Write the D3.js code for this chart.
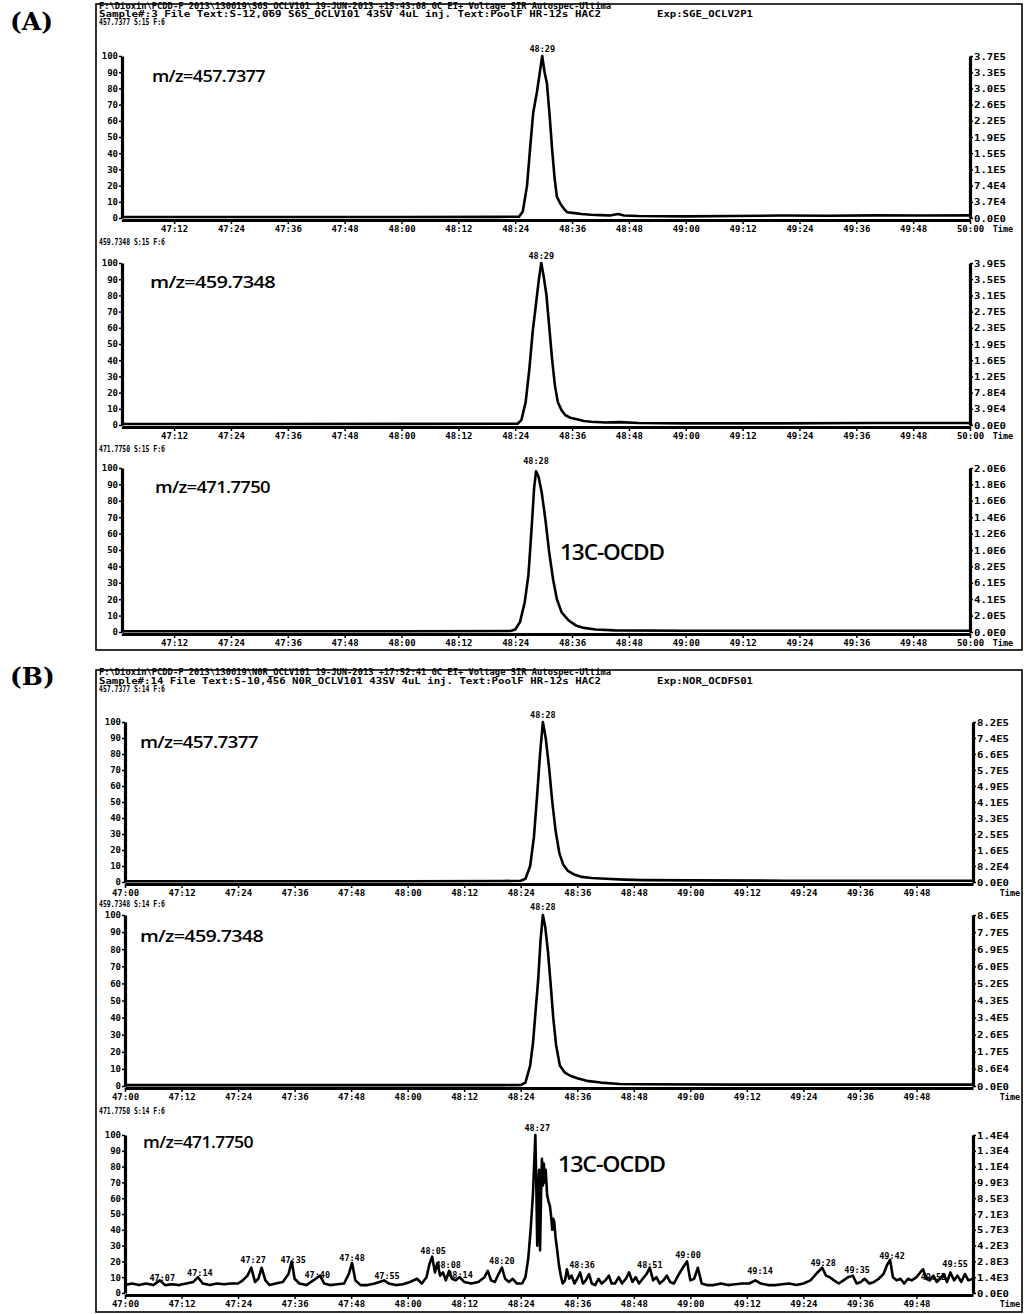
<!DOCTYPE html>
<html>
<head>
<meta charset="utf-8">
<script src="https://cdn.jsdelivr.net/npm/d3@7"></script>
<style>
body { margin: 0; background: #fff; }
text { fill: #000; }
.hd { font-family: "DejaVu Sans Mono", monospace; font-weight: bold; font-size: 8px; }
.tk text { font-family: "DejaVu Sans Mono", monospace; font-weight: bold; font-size: 9px; }
.rt text { font-family: "DejaVu Sans Mono", monospace; font-weight: bold; font-size: 9.5px; }
.pk { font-family: "DejaVu Sans Mono", monospace; font-weight: bold; font-size: 8.5px; }
.mz { font-family: "Open Sans", sans-serif; font-weight: 600; font-size: 17px; letter-spacing: -0.6px; }
.cmp { font-family: "Open Sans", sans-serif; font-weight: 600; font-size: 21px; letter-spacing: -1px; }
.big { font-family: "DejaVu Serif", serif; font-weight: bold; font-size: 25px; }
</style>
</head>
<body>
<div id="chart"></div>
<script>
// time in seconds after 47:00, intensity in % of the trace maximum
const timeLabelsA = ["47:12","47:24","47:36","47:48","48:00","48:12","48:24","48:36","48:48","49:00","49:12","49:24","49:36","49:48","50:00"];
const timeLabelsB = ["47:00","47:12","47:24","47:36","47:48","48:00","48:12","48:24","48:36","48:48","49:00","49:12","49:24","49:36","49:48"];
const leftLabels = ["100","90","80","70","60","50","40","30","20","10","0"];

const rightA1 = ["3.7E5","3.3E5","3.0E5","2.6E5","2.2E5","1.9E5","1.5E5","1.1E5","7.4E4","3.7E4","0.0E0"];
const rightA2 = ["3.9E5","3.5E5","3.1E5","2.7E5","2.3E5","1.9E5","1.6E5","1.2E5","7.8E4","3.9E4","0.0E0"];
const rightA3 = ["2.0E6","1.8E6","1.6E6","1.4E6","1.2E6","1.0E6","8.2E5","6.1E5","4.1E5","2.0E5","0.0E0"];
const rightB1 = ["8.2E5","7.4E5","6.6E5","5.7E5","4.9E5","4.1E5","3.3E5","2.5E5","1.6E5","8.2E4","0.0E0"];
const rightB2 = ["8.6E5","7.7E5","6.9E5","6.0E5","5.2E5","4.3E5","3.4E5","2.6E5","1.7E5","8.6E4","0.0E0"];
const rightB3 = ["1.4E4","1.3E4","1.1E4","9.9E3","8.5E3","7.1E3","5.7E3","4.2E3","2.8E3","1.4E3","0.0E0"];

const headerA = ["F:\\Dioxin\\PCDD-F 2013\\130619\\S6S_OCLV101 19-JUN-2013 +15:43:08 GC EI+ Voltage SIR Autospec-Ultima",
                 "Sample#:3 File Text:S-12,069 S6S_OCLV101 43SV 4uL inj. Text:PoolF HR-12s HAC2",
                 "Exp:SGE_OCLV2P1"];
const headerB = ["F:\\Dioxin\\PCDD-F 2013\\130619\\N0R_OCLV101 19-JUN-2013 +17:52:41 GC EI+ Voltage SIR Autospec-Ultima",
                 "Sample#:14 File Text:S-10,456 N0R_OCLV101 43SV 4uL inj. Text:PoolF HR-12s HAC2",
                 "Exp:NOR_OCDFS01"];
const traceTitlesA = ["457.7377 S:15 F:6","459.7348 S:15 F:6","471.7750 S:15 F:6"];
const traceTitlesB = ["457.7377 S:14 F:6","459.7348 S:14 F:6","471.7750 S:14 F:6"];
const mzLabels = ["m/z=457.7377","m/z=459.7348","m/z=471.7750"];
const compound = "13C-OCDD";

const a1 = [[1,0.6],[30,0.6],[60,0.6],[80,0.7],[84.8,0.8],[85.6,4],[86.5,20],[87.2,45],[87.8,65],[88.6,78],[89.2,90],[89.7,100],[90.2,90],[90.7,83],[91.3,62],[91.8,42],[92.3,25],[92.8,13],[93.5,9],[94.2,6],[95,3.5],[96.5,3],[98,2.5],[100,2],[102,1.8],[104,1.5],[105.7,2.5],[107,1.5],[110,1.2],[120,1],[130,1.2],[140,1.5],[150,1.4],[160,1.6],[170,1.5],[180,1.6]];
const a2 = [[1,0.6],[30,0.6],[60,0.7],[80,0.8],[84.5,0.8],[85.3,3],[86.2,14],[87,35],[87.7,58],[88.4,75],[89,90],[89.5,100],[90,92],[90.6,80],[91.2,60],[91.8,40],[92.4,24],[93,14],[93.8,9],[94.6,6],[95.6,4.5],[97,3.5],[98.5,2.5],[100,2],[103,1.5],[106,1.8],[110,1.2],[120,1],[140,1],[160,1.2],[180,1.2]];
const a3 = [[1,0.5],[30,0.5],[60,0.5],[83,0.6],[84,1.5],[85,6],[86,18],[86.8,35],[87.5,65],[88,88],[88.4,98],[88.9,95],[89.6,85],[90.4,68],[91.2,48],[92,32],[92.8,20],[93.8,12],[95.3,7],[96.8,4],[98.5,2.5],[101,1.5],[105,1],[120,0.8],[150,0.8],[180,0.8]];
const b1 = [[0,0.5],[30,0.5],[60,0.5],[80,0.6],[84,0.8],[85,2],[86,10],[86.8,28],[87.5,55],[88.1,80],[88.7,100],[89.3,90],[90,72],[90.7,50],[91.4,32],[92.2,18],[93,11],[94,7],[95.5,4.5],[97,3.2],[99,2.5],[102,2],[106,1.5],[110,1.2],[120,1],[140,0.8],[160,0.8],[180,0.8]];
const b2 = [[0,0.5],[30,0.5],[60,0.5],[80,0.5],[84,0.6],[85,2],[86,12],[86.6,25],[87.1,42],[87.7,62],[88.2,85],[88.7,100],[89.2,93],[89.8,78],[90.4,58],[90.9,40],[91.5,24],[92.3,12],[93.3,8],[94.5,6],[96,4.5],[98,3],[101,2],[105,1.2],[110,1],[130,0.8],[180,0.8]];
const b3 = [[0,5],[1.5,6],[3,5],[4.5,6],[6,5],[7.4,8],[8.5,5],[10,5.5],[11.5,5],[13,6],[14.5,7],[15.5,10],[16.5,6],[18,5],[19.5,6],[21,5.5],[22.5,6],[24,6],[25,8],[26,11],[26.8,16],[27.6,7],[28.3,9],[29,16],[29.8,8],[30.7,5],[32,6],[33.5,7],[34.7,12],[35.4,20],[36,9],[37,6],[38.5,5],[39.5,7],[40.5,9],[41.4,11],[42.3,6],[43.5,5],[45,5.5],[46.5,6],[47.5,12],[48.2,19],[48.9,8],[50,5],[51.5,5],[53,6],[54,7],[55,8],[56,6],[57.5,5],[59,5.5],[60.5,7],[62,9],[63,6],[64,10],[64.6,18],[65.2,23],[65.8,13],[66.3,19],[66.9,11],[67.5,13],[68.1,8],[68.8,14],[69.4,9],[70.2,8],[71,10],[72,7],[73.5,6],[75,7],[76.3,10],[77,14],[77.7,8],[78.5,7],[79.3,12],[80,16],[80.7,9],[81.5,7],[82.3,9],[83.2,6],[84.3,6],[85,10],[85.6,22],[86.1,40],[86.6,63],[86.9,85],[87.1,100],[87.3,70],[87.5,30],[87.7,60],[87.9,78],[88.1,27],[88.3,60],[88.5,85],[88.7,68],[88.9,82],[89.1,70],[89.3,78],[89.6,62],[89.9,58],[90.2,55],[90.5,47],[90.7,40],[90.9,47],[91.1,45],[91.4,35],[91.7,28],[92.1,18],[92.5,11],[92.9,6],[93.4,8],[93.8,15],[94.3,9],[94.8,11],[95.4,6],[96,9],[96.6,13],[97.2,6],[97.8,8],[98.5,12],[99.1,6],[99.8,5],[100.5,9],[101.2,6],[102,8],[102.7,11],[103.3,6],[104,6],[104.8,10],[105.5,6],[106.3,9],[107,13],[107.7,7],[108.4,10],[109.1,6],[109.9,9],[110.7,12],[111.4,16],[112.1,8],[112.8,10],[113.5,6],[114.3,8],[115,11],[115.7,7],[116.5,6],[117.4,11],[118.4,16],[119.3,20],[120,8],[120.8,9],[121.6,16],[122.4,6],[123.5,5],[125,5],[126.5,6],[128,5],[129.5,5.5],[131,6],[132.5,6],[133.8,8],[135,6],[136.5,5],[138,5],[139.5,5.5],[141,6],[142.5,5],[144,6],[145.5,8],[147,13],[148,16],[148.8,11],[149.6,10],[150.5,8],[151.5,6],[152.5,8],[153.5,10],[154.5,11],[155.3,6],[156.2,7],[157,9],[158,6],[159,7],[160,9],[161,12],[161.8,18],[162.4,21],[163,10],[163.8,8],[164.6,9],[165.4,6],[166.2,9],[167,8],[168,10],[168.8,13],[169.4,15],[170.1,9],[170.8,8],[171.6,11],[172.3,7],[173,9],[173.8,12],[174.5,7],[175.2,13],[176,8],[176.7,11],[177.5,7],[178.3,12],[179,8],[180,9]];

// peak labels: [text, time, % position of label baseline]
const peaksA1 = [["48:29",89.7,101.5]];
const peaksA2 = [["48:29",89.5,101.5]];
const peaksA3 = [["48:28",88.4,101.5]];
const peaksB1 = [["48:28",88.7,101.5]];
const peaksB2 = [["48:28",88.7,101.5]];
const peaksB3 = [["47:07",7.9,6.3],["47:14",15.9,9.5],["47:27",27.2,17.7],["47:35",35.7,17.7],["47:40",40.8,8.2],["47:48",48.2,19],["47:55",55.6,7.6],["48:05",65.4,23.4],["48:08",68.6,14.6],["48:14",71.1,8.2],["48:20",80,17],["48:27",87.5,101.5],["48:36",97,14.6],["48:51",111.4,14.6],["49:00",119.5,21],["49:14",134.8,10.8],["49:28",148.2,15.8],["49:35",155.4,11.4],["49:42",162.8,20.3],["49:52",171.6,7.2],["49:55",176.2,15.2]];

const toSec = s => { const p = s.split(":"); return (+p[0] - 47) * 60 + (+p[1]); };
const pctVals = leftLabels.map(d => +d);

const panels = [
  { tag: "(A)", tagY: 30, box: [96, 4, 1022, 650], header: headerA, hy: [9, 17, 25], x0: 122, x1: 970, dom: [1, 180],
    times: timeLabelsA, timeX: 1003,
    subs: [
      { title: traceTitlesA[0], ty: 25, top: 56, bottom: 218, data: a1, right: rightA1, peaks: peaksA1, mz: [152, 82, 113] },
      { title: traceTitlesA[1], ty: 245, top: 263, bottom: 425, data: a2, right: rightA2, peaks: peaksA2, mz: [150, 288, 125] },
      { title: traceTitlesA[2], ty: 452, top: 468, bottom: 632, data: a3, right: rightA3, peaks: peaksA3, mz: [155, 493, 115], cmp: [560, 560, 104] }
    ] },
  { tag: "(B)", tagY: 685, box: [96, 670, 1022, 1312], header: headerB, hy: [675, 684, 692], x0: 125, x1: 973, dom: [0, 180],
    times: timeLabelsB, timeX: 1010,
    subs: [
      { title: traceTitlesB[0], ty: 692, top: 722, bottom: 882, data: b1, right: rightB1, peaks: peaksB1, mz: [140, 748, 118] },
      { title: traceTitlesB[1], ty: 907, top: 915, bottom: 1086, data: b2, right: rightB2, peaks: peaksB2, mz: [140, 942, 123] },
      { title: traceTitlesB[2], ty: 1114, top: 1135, bottom: 1293, data: b3, right: rightB3, peaks: peaksB3, mz: [143, 1148, 110], cmp: [558, 1172, 107] }
    ] }
];

const svg = d3.select("#chart").append("svg")
  .attr("width", 1025).attr("height", 1314);

panels.forEach(p => {
  const g = svg.append("g");
  g.append("text").attr("class", "big").attr("x", 10).attr("y", p.tagY).text(p.tag);
  g.append("rect")
    .attr("x", p.box[0]).attr("y", p.box[1])
    .attr("width", p.box[2] - p.box[0]).attr("height", p.box[3] - p.box[1])
    .attr("fill", "none").attr("stroke", "#000").attr("stroke-width", 1.6);
  g.append("text").attr("class", "hd").attr("x", 99).attr("y", p.hy[0])
    .attr("textLength", 512).attr("lengthAdjust", "spacingAndGlyphs").text(p.header[0]);
  g.append("text").attr("class", "hd").attr("x", 99).attr("y", p.hy[1])
    .attr("textLength", 502).attr("lengthAdjust", "spacingAndGlyphs").text(p.header[1]);
  g.append("text").attr("class", "hd").attr("x", 657).attr("y", p.hy[1])
    .attr("textLength", 96).attr("lengthAdjust", "spacingAndGlyphs").text(p.header[2]);

  const x = d3.scaleLinear().domain(p.dom).range([p.x0, p.x1]);

  p.subs.forEach((s, si) => {
    const y = d3.scaleLinear().domain([0, 100]).range([s.bottom, s.top]);

    g.append("text").attr("class", "hd").attr("x", 99).attr("y", s.ty)
      .attr("textLength", 66).attr("lengthAdjust", "spacingAndGlyphs").text(s.title);

    // minor x ticks
    g.append("g").attr("transform", `translate(0,${s.bottom + 2})`)
      .call(d3.axisBottom(x).tickValues(d3.range(p.dom[0], p.dom[1], 2)).tickSize(2).tickFormat(""))
      .call(a => a.select(".domain").remove())
      .selectAll("line").attr("stroke-width", 1.3);

    // main x axis
    const xa = g.append("g").attr("class", "tk").attr("transform", `translate(0,${s.bottom + 2})`)
      .call(d3.axisBottom(x).tickValues(p.times.map(toSec)).tickFormat((d, i) => p.times[i])
        .tickSize(4).tickSizeOuter(0).tickPadding(2));
    xa.select(".domain").attr("stroke-width", 3.2);
    xa.selectAll("line").attr("stroke-width", 1.5);
    g.append("text").attr("class", "pk").attr("x", p.timeX).attr("y", s.bottom + 14)
      .attr("text-anchor", "middle").text("Time");

    const la = g.append("g").attr("class", "tk").attr("transform", `translate(${p.x0},0)`)
      .call(d3.axisLeft(y).tickValues(pctVals).tickFormat((d, i) => leftLabels[i])
        .tickSize(3).tickSizeOuter(0).tickPadding(1));
    la.select(".domain").attr("stroke-width", 3.2);
    la.selectAll("line").attr("stroke-width", 1.5);

    const ra = g.append("g").attr("class", "rt").attr("transform", `translate(${p.x1},0)`)
      .call(d3.axisRight(y).tickValues(pctVals).tickFormat((d, i) => s.right[i])
        .tickSize(3).tickSizeOuter(0).tickPadding(1));
    ra.select(".domain").attr("stroke-width", 3.2);
    ra.selectAll("line").attr("stroke-width", 1.5);
    ra.selectAll("text").attr("textLength", 32).attr("lengthAdjust", "spacingAndGlyphs");

    g.append("path").datum(s.data)
      .attr("fill", "none").attr("stroke", "#000").attr("stroke-width", 2.6)
      .attr("stroke-linejoin", "round")
      .attr("d", d3.line().x(d => x(d[0])).y(d => y(d[1])));

    g.selectAll(null).data(s.peaks).enter().append("text")
      .attr("class", "pk").attr("text-anchor", "middle")
      .attr("x", d => x(d[1])).attr("y", d => y(d[2]) - 2)
      .text(d => d[0]);

    g.append("text").attr("class", "mz").attr("x", s.mz[0]).attr("y", s.mz[1])
      .attr("textLength", s.mz[2]).attr("lengthAdjust", "spacingAndGlyphs")
      .text(mzLabels[si]);
    if (s.cmp) {
      g.append("text").attr("class", "cmp").attr("x", s.cmp[0]).attr("y", s.cmp[1])
        .attr("textLength", s.cmp[2]).attr("lengthAdjust", "spacingAndGlyphs").text(compound);
    }
  });
});
</script>
</body>
</html>
